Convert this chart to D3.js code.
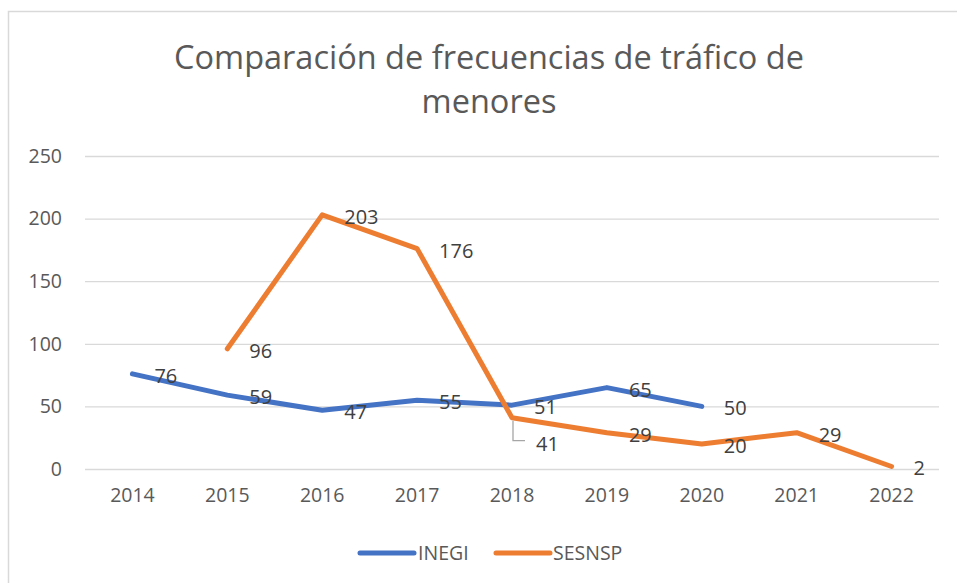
<!DOCTYPE html>
<html><head><meta charset="utf-8">
<script src="https://cdn.jsdelivr.net/npm/d3@7"></script>
<style>body{margin:0;background:#fff}svg{display:block}text{font-family:"Open Sans",sans-serif}</style>
</head><body><svg id="c" width="957" height="583"></svg>
<script>
const years = ["2014","2015","2016","2017","2018","2019","2020","2021","2022"];
const inegi = [76,59,47,55,51,65,50,null,null];
const sesnsp = [null,96,203,176,41,29,20,29,2];
const yTicks = [0,50,100,150,200,250];
const seriesNames = ["INEGI","SESNSP"];
const colors = ["#4472C4","#ED7D31"];

const svg = d3.select("#c");
svg.append("rect").attr("x",8.5).attr("y",11.5).attr("width",960).attr("height",580)
  .attr("fill","#fff").attr("stroke","#d9d9d9").attr("stroke-width",1.5);

const x = d3.scaleBand().domain(years).range([85,939]);
const y = d3.scaleLinear().domain([0,250]).range([469,156]);

svg.append("text").attr("x",489).attr("y",69).attr("text-anchor","middle")
  .attr("font-size",32.5).attr("fill","#595959").text("Comparación de frecuencias de tráfico de");
svg.append("text").attr("x",489).attr("y",113).attr("text-anchor","middle")
  .attr("font-size",32.5).attr("fill","#595959").text("menores");

// grid
const grid = svg.append("g").attr("transform","translate(85,0)")
  .call(d3.axisLeft(y).tickValues(yTicks).tickSize(-854).tickFormat(""));
grid.select(".domain").remove();
grid.selectAll("line").attr("stroke","#d9d9d9").attr("stroke-width",1.3);

// y labels
const ya = svg.append("g").attr("transform","translate(62,0)")
  .call(d3.axisLeft(y).tickValues(yTicks).tickSize(0).tickPadding(0));
ya.select(".domain").remove();
ya.selectAll("text").attr("font-size",19.5).attr("fill","#595959").attr("font-family","Open Sans");

// x labels
const xa = svg.append("g").attr("transform","translate(0,488)")
  .call(d3.axisBottom(x).tickSize(0).tickPadding(0));
xa.select(".domain").remove();
xa.selectAll("text").attr("font-size",19.5).attr("fill","#595959").attr("font-family","Open Sans");

const cx = d => x(d) + x.bandwidth()/2;
const data = [inegi, sesnsp];
data.forEach((vals,i)=>{
  const pts = years.map((yr,j)=>({yr,v:vals[j]})).filter(d=>d.v!=null);
  svg.append("path").datum(pts)
    .attr("d", d3.line().x(d=>cx(d.yr)).y(d=>y(d.v)))
    .attr("fill","none").attr("stroke",colors[i]).attr("stroke-width",5)
    .attr("stroke-linejoin","round").attr("stroke-linecap","round");
});

// leader line for 41
const lx = cx("2018"), ly = y(41);
svg.append("path").attr("d",`M${lx+1},${ly+3}V${ly+23}H${lx+13}`)
  .attr("fill","none").attr("stroke","#a6a6a6").attr("stroke-width",1.3);

data.forEach((vals,i)=>{
  years.forEach((yr,j)=>{
    const v = vals[j]; if(v==null) return;
    let dx = 22, dy = 9;
    if(i===1 && yr==="2018"){ dx = 24; dy = 33; }
    svg.append("text").attr("x",cx(yr)+dx).attr("y",y(v)+dy)
      .attr("font-size",20).attr("fill","#404040").text(v);
  });
});

// legend
const leg = [{n:"INEGI",x:360,tx:418},{n:"SESNSP",x:496,tx:553}];
leg.forEach((l,i)=>{
  svg.append("line").attr("x1",l.x).attr("x2",l.x+54).attr("y1",553).attr("y2",553)
    .attr("stroke",colors[i]).attr("stroke-width",5).attr("stroke-linecap","round");
  svg.append("text").attr("x",l.tx).attr("y",560).attr("font-size",19.5).attr("fill","#595959").text(l.n);
});
</script></body></html>
